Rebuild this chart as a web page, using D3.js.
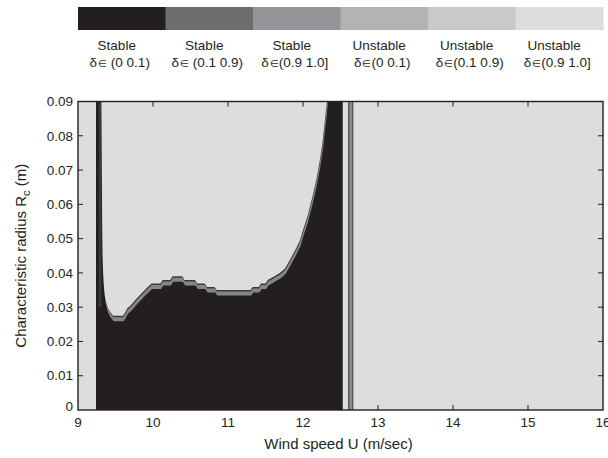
<!DOCTYPE html>
<html>
<head>
<meta charset="utf-8">
<script src="https://cdn.jsdelivr.net/npm/d3@7"></script>
<style>
  html, body { margin: 0; padding: 0; background: #fff; }
  svg { display: block; font-family: "Liberation Sans", Arial, sans-serif; }
</style>
</head>
<body>
<svg id="chart" width="608" height="458"></svg>
<script>
// ---------------- data ----------------
const legendTop = ["Stable", "Stable", "Stable", "Unstable", "Unstable", "Unstable"];
const legendBottom = [" (0 0.1)", " (0.1 0.9)", "(0.9 1.0]", "(0 0.1)", "(0.1 0.9)", "(0.9 1.0]"];
const legendColors = ["#231f20", "#6d6e70", "#939598", "#b1b3b5", "#c8c9cb", "#dcdddf"];

const xTicks = [9, 10, 11, 12, 13, 14, 15, 16];
const yTicks = [0, 0.01, 0.02, 0.03, 0.04, 0.05, 0.06, 0.07, 0.08, 0.09];

// stable (δ<0.1) region extent in wind speed
const stableU = [9.24, 12.53];
// vertical transition strip
const stripU = [12.60, 12.67];

// stability boundary (upper edge of stable region inside the well)
const boundaryU = [9.312, 9.318, 9.322, 9.327, 9.335, 9.345, 9.360, 9.380, 9.400, 9.430, 9.470,
  9.600, 9.630, 9.655, 9.700, 9.800, 9.900, 9.980, 10.100, 10.130, 10.230, 10.260, 10.390, 10.420,
  10.560, 10.590, 10.690, 10.720, 10.820, 10.850, 11.300, 11.330, 11.410, 11.440, 11.500, 11.530,
  11.600, 11.690, 11.760, 11.830, 11.900, 11.960, 12.000, 12.060, 12.130, 12.180, 12.220, 12.260,
  12.280, 12.305, 12.320];
const boundaryR = [0.0900, 0.0700, 0.0550, 0.0450, 0.0400, 0.0360, 0.0330, 0.0310, 0.0297, 0.0285, 0.0275,
  0.0275, 0.0285, 0.0296, 0.0305, 0.0330, 0.0352, 0.0369, 0.0369, 0.0379, 0.0379, 0.0390, 0.0390, 0.0379,
  0.0379, 0.0369, 0.0369, 0.0359, 0.0359, 0.0350, 0.0350, 0.0359, 0.0359, 0.0369, 0.0369, 0.0379,
  0.0388, 0.0400, 0.0413, 0.0440, 0.0468, 0.0495, 0.0525, 0.0565, 0.0626, 0.0675, 0.0723, 0.0780,
  0.0821, 0.0870, 0.0900];

// ---------------- layout ----------------
const svg = d3.select("#chart");
const plot = { left: 78, right: 603, top: 101.5, bottom: 410 };
const x = d3.scaleLinear().domain([9, 16]).range([plot.left, plot.right]);
const y = d3.scaleLinear().domain([0, 0.09]).range([plot.bottom, plot.top]);

const lightColor = legendColors[5];
const darkColor = legendColors[0];
const ink = "#231f20";

svg.append("defs").append("clipPath").attr("id", "plotclip")
  .append("rect").attr("x", plot.left).attr("y", plot.top)
  .attr("width", plot.right - plot.left).attr("height", plot.bottom - plot.top);

const g = svg.append("g").attr("clip-path", "url(#plotclip)");

// background (unstable, δ in (0.9 1.0])
g.append("rect").attr("x", plot.left).attr("y", plot.top)
  .attr("width", plot.right - plot.left).attr("height", plot.bottom - plot.top)
  .attr("fill", lightColor);

// stable region
g.append("rect").attr("x", x(stableU[0])).attr("y", plot.top)
  .attr("width", x(stableU[1]) - x(stableU[0])).attr("height", plot.bottom - plot.top)
  .attr("fill", darkColor);

// left wall transition (dark grey inner edge)
g.append("rect").attr("x", x(stableU[0]) + 2.7).attr("y", plot.top)
  .attr("width", x(boundaryU[0]) - x(stableU[0]) - 2.7).attr("height", y(0.03) - plot.top)
  .attr("fill", "#3a3a3c");

// well of unstable region above the boundary
const pts = boundaryU.map((u, i) => [u, boundaryR[i]]);
const wellArea = d3.area()
  .curve(d3.curveLinear)
  .x(d => x(d[0]))
  .y0(d => y(d[1]))
  .y1(y(0.09) - 20);
const wellPath = wellArea(pts);

// transition band (δ in (0.1 0.9)) and outline
g.append("path").attr("d", wellPath).attr("fill", "#858688")
  .attr("transform", "translate(0.6,5.5)");
g.append("path").attr("d", wellPath).attr("fill", "#3a3a3c")
  .attr("transform", "translate(0.3,1.5)");
g.append("path").attr("d", wellPath).attr("fill", lightColor);

// vertical transition strip
g.append("rect").attr("x", x(stripU[0])).attr("y", plot.top)
  .attr("width", x(stripU[1]) - x(stripU[0])).attr("height", plot.bottom - plot.top)
  .attr("fill", "#8a8b8d");
g.append("rect").attr("x", x(stripU[0])).attr("y", plot.top)
  .attr("width", 1.4).attr("height", plot.bottom - plot.top).attr("fill", "#555658");
g.append("rect").attr("x", x(stripU[1]) - 1.2).attr("y", plot.top)
  .attr("width", 1.2).attr("height", plot.bottom - plot.top).attr("fill", "#555658");

// ---------------- axes ----------------
const tickLen = 5;
const axG = svg.append("g");
xTicks.forEach(t => {
  if (t === 9 || t === 16) return;
  axG.append("line").attr("x1", x(t)).attr("x2", x(t)).attr("y1", plot.bottom).attr("y2", plot.bottom - tickLen)
    .attr("stroke", ink).attr("stroke-width", 1);
  axG.append("line").attr("x1", x(t)).attr("x2", x(t)).attr("y1", plot.top).attr("y2", plot.top + tickLen)
    .attr("stroke", ink).attr("stroke-width", 1);
});
yTicks.forEach(t => {
  if (t === 0 || t === 0.09) return;
  axG.append("line").attr("x1", plot.left).attr("x2", plot.left + tickLen).attr("y1", y(t)).attr("y2", y(t))
    .attr("stroke", ink).attr("stroke-width", 1);
  axG.append("line").attr("x1", plot.right).attr("x2", plot.right - tickLen).attr("y1", y(t)).attr("y2", y(t))
    .attr("stroke", ink).attr("stroke-width", 1);
});
axG.append("rect").attr("x", plot.left).attr("y", plot.top)
  .attr("width", plot.right - plot.left).attr("height", plot.bottom - plot.top)
  .attr("fill", "none").attr("stroke", ink).attr("stroke-width", 1.4);

const fmtY = d => d === 0 ? "0" : d3.format(".2f")(d);
axG.selectAll(".yl").data(yTicks).enter().append("text")
  .attr("x", plot.left - 5)
  .attr("y", d => d === 0 ? y(d) - 4 : y(d))
  .attr("dy", "0.35em")
  .attr("text-anchor", "end")
  .attr("font-size", 13.5)
  .attr("fill", ink)
  .text(fmtY);
axG.selectAll(".xl").data(xTicks).enter().append("text")
  .attr("x", d => x(d))
  .attr("y", plot.bottom + 17)
  .attr("text-anchor", "middle")
  .attr("font-size", 13.5)
  .attr("fill", ink)
  .text(d => d);

axG.append("text").attr("x", (plot.left + plot.right) / 2 - 2).attr("y", 449)
  .attr("text-anchor", "middle").attr("font-size", 15).attr("fill", ink)
  .text("Wind speed U (m/sec)");
const yt = axG.append("text")
  .attr("transform", `translate(26,${(plot.top + plot.bottom) / 2}) rotate(-90)`)
  .attr("text-anchor", "middle").attr("font-size", 15).attr("fill", ink);
yt.append("tspan").text("Characteristic radius R");
yt.append("tspan").attr("font-size", 11).attr("dy", 4).text("c");
yt.append("tspan").attr("dy", -4).text(" (m)");

// ---------------- legend ----------------
const lx = d3.scaleBand().domain(d3.range(legendColors.length)).range([plot.left, plot.right]).paddingInner(0);
const lg = svg.append("g");
lg.selectAll("rect").data(legendColors).enter().append("rect")
  .attr("x", (d, i) => lx(i)).attr("y", 7)
  .attr("width", lx.bandwidth() + 0.5).attr("height", 23)
  .attr("fill", d => d);
lg.selectAll(".lt").data(legendTop).enter().append("text")
  .attr("x", (d, i) => lx(i) + lx.bandwidth() / 2 - 5)
  .attr("y", 50).attr("text-anchor", "middle").attr("font-size", 13.5).attr("fill", ink)
  .text(d => d);
const lb = lg.selectAll(".lb").data(legendBottom).enter().append("text")
  .attr("x", (d, i) => lx(i) + lx.bandwidth() / 2 - 2)
  .attr("y", 67).attr("text-anchor", "middle").attr("font-size", 13.5).attr("fill", ink);
lb.append("tspan").text("δ");
lb.append("tspan").attr("font-size", 10).attr("dx", 1).text("∈");
lb.append("tspan").text(d => d);
</script>
</body>
</html>
